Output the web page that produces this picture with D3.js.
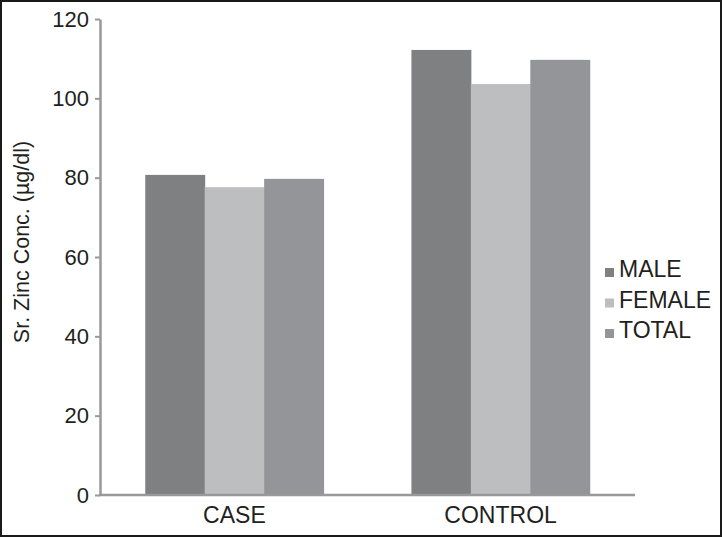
<!DOCTYPE html>
<html><head><meta charset="utf-8">
<script src="https://cdn.jsdelivr.net/npm/d3@7"></script>
<style>body{margin:0;background:#fff}svg{display:block}</style>
</head><body>
<script>
const categories = ["CASE", "CONTROL"];
const seriesNames = ["MALE", "FEMALE", "TOTAL"];
const male = [80.7, 112.2];
const female = [77.6, 103.6];
const total = [79.7, 109.7];
const yTicks = [0, 20, 40, 60, 80, 100, 120];
const colors = ["#7f8082", "#bdbec0", "#939598"];
const series = [male, female, total];

const W = 722, H = 537;
const svg = d3.select("body").append("svg").attr("width", W).attr("height", H);
svg.append("rect").attr("x", 1).attr("y", 1).attr("width", W - 2).attr("height", H - 2)
  .attr("fill", "#fff").attr("stroke", "#1a1a1a").attr("stroke-width", 2);

const x0 = 100, x1 = 635, yTop = 19, yBot = 495;
const y = d3.scaleLinear().domain([0, 120]).range([yBot, yTop]);
const xb = d3.scaleBand().domain(categories).range([x0, x1]).paddingInner(0.33).paddingOuter(0.17);
const xs = d3.scaleBand().domain(seriesNames).range([0, xb.bandwidth()]);

const font = "Liberation Sans, Arial, sans-serif";
const ink = "#231f20";

categories.forEach((c, ci) => {
  seriesNames.forEach((s, si) => {
    svg.append("rect")
      .attr("x", xb(c) + xs(s))
      .attr("y", y(series[si][ci]))
      .attr("width", xs.bandwidth() + 0.5)
      .attr("height", yBot - y(series[si][ci]))
      .attr("fill", colors[si]);
  });
});

const yAxis = d3.axisLeft(y).tickValues(yTicks).tickSize(5).tickPadding(6).tickSizeOuter(0);
const gy = svg.append("g").attr("transform", `translate(${x0},0)`).call(yAxis);
gy.select(".domain").attr("stroke", "#999").attr("stroke-width", 2.5);
gy.selectAll(".tick line").attr("stroke", "#999").attr("stroke-width", 2);
gy.selectAll(".tick text").attr("font-family", font).attr("font-size", 22).attr("fill", ink);

const xAxis = d3.axisBottom(xb).tickSize(0).tickPadding(12);
const gx = svg.append("g").attr("transform", `translate(0,${yBot})`).call(xAxis);
gx.select(".domain").attr("stroke", "#999").attr("stroke-width", 2.5).attr("d", `M${x0 - 1},0H${x1}`);
gx.selectAll(".tick text").attr("font-family", font).attr("font-size", 23).attr("fill", ink);

svg.append("text").attr("transform", `translate(29,${242}) rotate(-90)`)
  .attr("text-anchor", "middle").attr("font-family", font).attr("font-size", 21.5).attr("fill", ink)
  .text("Sr. Zinc Conc. (µg/dl)");

const baselines = [277, 307.5, 338];
seriesNames.forEach((s, i) => {
  const b = baselines[i];
  svg.append("rect").attr("x", 605).attr("y", b - 9).attr("width", 9).attr("height", 9).attr("fill", colors[i]);
  svg.append("text").attr("x", 619).attr("y", b).attr("font-family", font).attr("font-size", 23)
    .attr("fill", ink).text(s);
});
</script>
</body></html>
